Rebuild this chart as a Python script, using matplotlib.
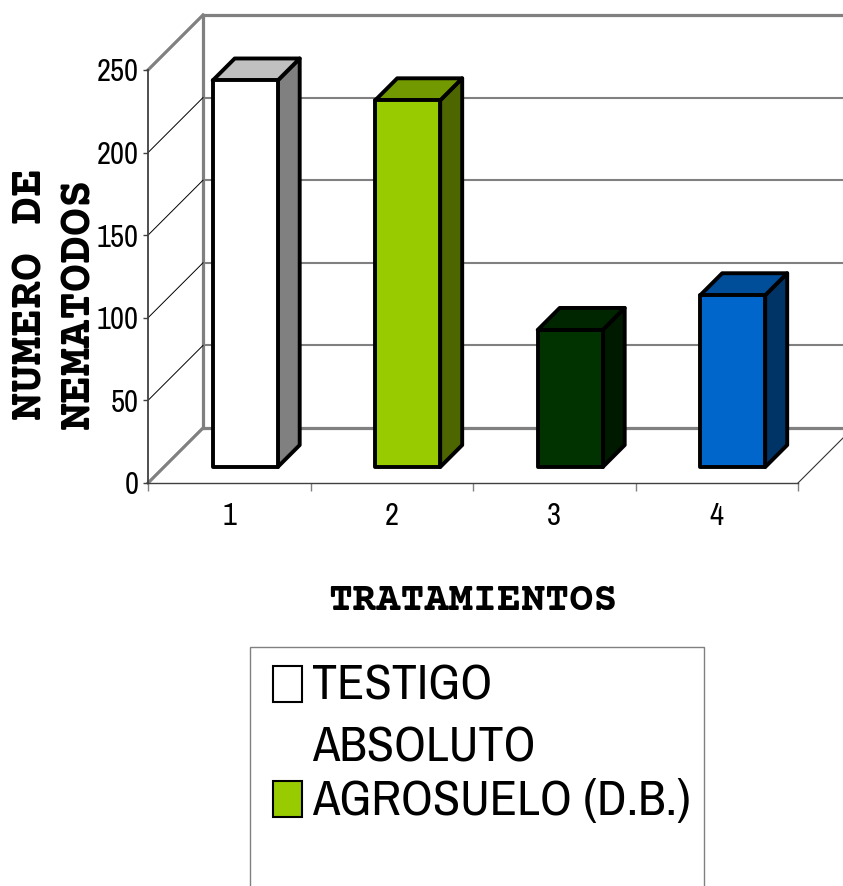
import matplotlib
matplotlib.use("Agg")
import matplotlib.pyplot as plt
from matplotlib.patches import Polygon, Rectangle

categories = ["1", "2", "3", "4"]
values = [234, 222, 83, 104]
front_colors = ["#FFFFFF", "#99CC00", "#003300", "#0066CC"]
top_colors = ["#C0C0C0", "#739900", "#002600", "#004D99"]
side_colors = ["#808080", "#4D6600", "#001A00", "#003366"]
y_ticks = [0, 50, 100, 150, 200, 250]
legend_labels = ["TESTIGO\nABSOLUTO", "AGROSUELO (D.B.)"]
legend_colors = ["#FFFFFF", "#99CC00"]
x_title = "TRATAMIENTOS"
y_title = "NUMERO DE\nNEMATODOS"

SANS = ["Archivo Narrow", "Liberation Sans"]
SLAB = ["Courier Prime", "Liberation Mono"]
plt.rcParams["font.family"] = SANS

W, H = 843, 886
fig = plt.figure(figsize=(W / 100, H / 100), dpi=100, facecolor="white")
# front plane of the 3-D box: x 148..798 px, y 483..70 px
ax = fig.add_axes([148 / W, 1 - 483 / H, 650 / W, 413 / H])
ax.set_xlim(0, len(categories))
ax.set_ylim(0, y_ticks[-1])
ax.patch.set_visible(False)

# oblique depth of the box, in data units (55 px right, 55 px up)
dx = 55 / (650 / len(categories))
dy = 55 / (413 / y_ticks[-1])
n = len(categories)
top = y_ticks[-1]

wall = "#808080"
ax.plot([dx, dx], [dy, top + dy], color=wall, lw=2.3, clip_on=False, zorder=1)
for v in y_ticks:
    edge = v in (0, top)
    ax.plot([dx, n + dx], [v + dy, v + dy], color=wall, lw=2.3 if edge else 1.5,
            clip_on=False, zorder=1, solid_capstyle="butt")
    ax.plot([0, dx], [v, v + dy], color=wall if edge else "black",
            lw=2.3 if edge else 0.7, clip_on=False, zorder=1)
ax.plot([n, n + dx], [0, dy], color="#333333", lw=0.8, clip_on=False, zorder=1)

# bars: front, top and right faces
w = 0.4
f0, f1 = 0.29, 0.69
for i, v in enumerate(values):
    xl = i + 0.5 - w / 2
    xr = xl + w
    ax0, ay0 = f0 * dx, f0 * dy
    bx0, by0 = f1 * dx, f1 * dy
    side = [(xr + ax0, ay0), (xr + bx0, by0), (xr + bx0, v + by0), (xr + ax0, v + ay0)]
    topf = [(xl + ax0, v + ay0), (xr + ax0, v + ay0), (xr + bx0, v + by0), (xl + bx0, v + by0)]
    front = [(xl + ax0, ay0), (xr + ax0, ay0), (xr + ax0, v + ay0), (xl + ax0, v + ay0)]
    for pts, col in ((side, side_colors[i]), (topf, top_colors[i]), (front, front_colors[i])):
        ax.add_patch(Polygon(pts, closed=True, facecolor=col, edgecolor="black", lw=2.8,
                             joinstyle="round", zorder=3, clip_on=False))

for s in ("top", "right"):
    ax.spines[s].set_visible(False)
ax.spines["left"].set_color("#404040")
ax.spines["left"].set_linewidth(1.3)
ax.spines["bottom"].set_color("#404040")
ax.spines["bottom"].set_linewidth(1.0)

ax.set_yticks(y_ticks)
ax.tick_params(axis="y", length=3.6, width=1, color="#404040", pad=3, labelsize=22)
ax.set_xticks(range(n + 1))
ax.set_xticklabels([])
ax.set_xticks([i + 0.5 for i in range(n)], minor=True)
ax.set_xticklabels(categories, minor=True)
ax.tick_params(axis="x", which="major", length=5.8, width=1, color="#808080")
ax.tick_params(axis="x", which="minor", length=0, pad=14, labelsize=22)

fig.text(473 / W, 1 - 610 / H, x_title, ha="center", va="baseline",
         family=SLAB, weight="bold", size=29)
for j, line in enumerate(y_title.split("\n")):
    fig.text((42 + 47 * j) / W, 1 - (294 + 9 * j) / H, line, rotation=90,
             rotation_mode="anchor", ha="center", va="baseline",
             family=SLAB, weight="bold", size=33.6)

# legend box (runs off the bottom of the picture)
fig.add_artist(Rectangle((250 / W, -0.05), 454 / W, 1 - 647 / H + 0.05,
                         transform=fig.transFigure, fill=False,
                         edgecolor="#808080", lw=1))
base = 700
for label, col in zip(legend_labels, legend_colors):
    fig.add_artist(Rectangle((273 / W, 1 - (base + 2) / H), 29 / W, 36 / H,
                             transform=fig.transFigure, facecolor=col,
                             edgecolor="black", lw=1.5))
    lines = label.split("\n")
    for k, line in enumerate(lines):
        fig.text(312 / W, 1 - base / H, line, ha="left", va="baseline", size=36)
        if k < len(lines) - 1:
            base += 62
    base += 53

fig.savefig("out.png", dpi=100, facecolor="white")
